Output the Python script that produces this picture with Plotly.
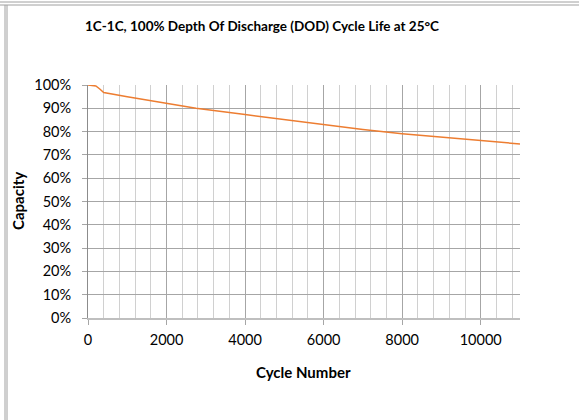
import plotly.graph_objects as go

cycles = [0, 200, 300, 400, 1000, 1600, 2000, 2750, 4000, 5000, 6000, 7000, 8000, 9000, 10000, 11000]
capacity = [100, 99.6, 98.3, 96.8, 95.0, 93.2, 92.1, 90.0, 87.3, 85.1, 82.9, 80.9, 79.1, 77.7, 76.2, 74.7]

x_ticks = [0, 2000, 4000, 6000, 8000, 10000]
y_ticks = [0, 10, 20, 30, 40, 50, 60, 70, 80, 90, 100]
y_tick_labels = [f"{v}%" for v in y_ticks]

W, H = 579, 420
ML, MR, MT, MB = 88, 59, 85, 102
PW, PH = W - ML - MR, H - MT - MB

def px2x(px):
    return (px - ML) / PW

def px2y(py):
    return (H - MB - py) / PH

FONT = "Lato, Carlito, 'Liberation Sans', sans-serif"

fig = go.Figure()
fig.add_trace(go.Scatter(
    x=cycles, y=capacity, mode="lines",
    line=dict(color="#ED7D31", width=1.5),
    showlegend=False, hoverinfo="skip",
))

border = "#a0a0a0"
shapes = [
    dict(type="line", xref="paper", yref="paper", x0=px2x(0), x1=px2x(W), y0=px2y(2), y1=px2y(2), line=dict(color=border, width=1)),
    dict(type="line", xref="paper", yref="paper", x0=px2x(0), x1=px2x(W), y0=px2y(5), y1=px2y(5), line=dict(color=border, width=1)),
    dict(type="line", xref="paper", yref="paper", x0=px2x(5), x1=px2x(5), y0=px2y(5), y1=px2y(H), line=dict(color=border, width=1)),
    dict(type="line", xref="paper", yref="paper", x0=px2x(7), x1=px2x(7), y0=px2y(5), y1=px2y(H), line=dict(color=border, width=1)),
]

annotations = [
    dict(text="<b>1C-1C, 100% Depth Of Discharge (DOD) Cycle Life at 25°C</b>",
         xref="paper", yref="paper", x=px2x(262), y=px2y(26),
         xanchor="center", yanchor="middle", showarrow=False,
         font=dict(size=13.5, family=FONT, color="#000000")),
    dict(text="<b>Cycle Number</b>",
         xref="paper", yref="paper", x=px2x(303), y=px2y(372),
         xanchor="center", yanchor="middle", showarrow=False,
         font=dict(size=15, family=FONT, color="#000000")),
    dict(text="<b>Capacity</b>", textangle=-90,
         xref="paper", yref="paper", x=px2x(18), y=px2y(201),
         xanchor="center", yanchor="middle", showarrow=False,
         font=dict(size=15, family=FONT, color="#000000")),
]

fig.update_layout(
    width=W, height=H,
    margin=dict(l=ML, r=MR, t=MT, b=MB, autoexpand=False),
    paper_bgcolor="white", plot_bgcolor="white",
    font=dict(family=FONT, color="#000000", size=14),
    shapes=shapes,
    annotations=annotations,
    xaxis=dict(
        range=[0, 11000], tickvals=x_ticks, ticktext=[str(v) for v in x_ticks],
        showgrid=True, gridcolor="#a6a6a6", gridwidth=1,
        minor=dict(dtick=400, showgrid=True, gridcolor="#d0d0d0", gridwidth=1, ticks=""),
        ticks="outside", ticklen=5, tickcolor="#a6a6a6",
        showline=True, linecolor="#bfbfbf", linewidth=1.5,
        zeroline=False, automargin=False, ticklabelstandoff=3,
        tickfont=dict(size=14.5, family=FONT),
    ),
    yaxis=dict(
        range=[0, 100], tickvals=y_ticks, ticktext=y_tick_labels,
        showgrid=True, gridcolor="#a6a6a6", gridwidth=1,
        ticks="outside", ticklen=5, tickcolor="#a6a6a6",
        showline=True, linecolor="#8c8c8c", linewidth=1,
        zeroline=False, automargin=False, ticklabelstandoff=8,
        tickfont=dict(size=14.5, family=FONT),
    ),
)

fig.write_html("out.html", config={"displayModeBar": False},
               post_script="document.body.style.margin='0';")
